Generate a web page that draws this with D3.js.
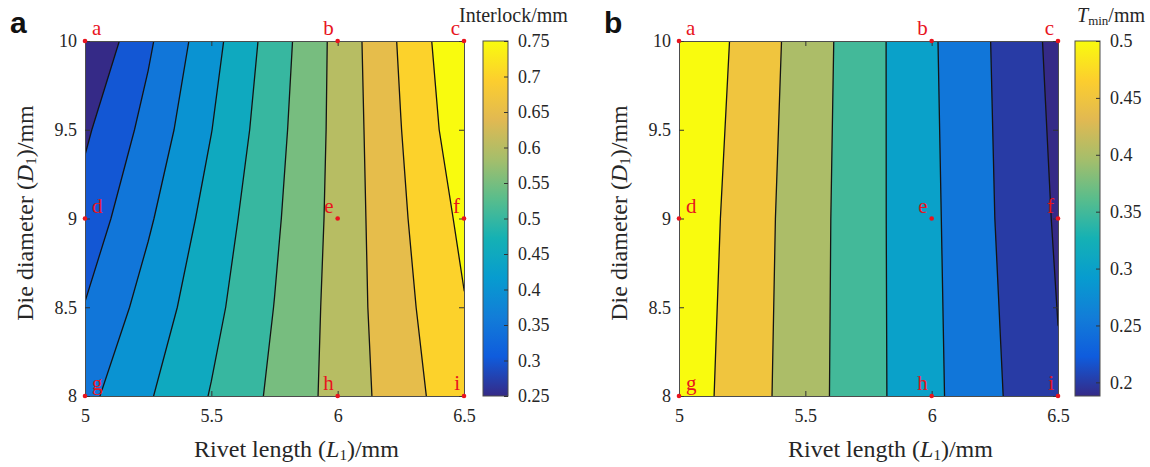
<!DOCTYPE html>
<html>
<head>
<meta charset="utf-8">
<script src="https://cdn.jsdelivr.net/npm/d3@7"></script>
<style>
body { margin: 0; background: #fff; }
svg text { font-family: "Liberation Serif", "DejaVu Serif", serif; }
</style>
</head>
<body>
<div id="chart"></div>
<script>
// grid: columns = rivet length L1, rows = die diameter D1
var rivetLength = [5, 5.25, 5.5, 5.75, 6, 6.25, 6.5];

var dieDiamA = [8, 8.5, 9, 9.5, 10];
// interlock / mm, one row per die diameter
var interlock = [
  [0.386, 0.445, 0.503, 0.560, 0.618, 0.677, 0.734],
  [0.352, 0.420, 0.485, 0.551, 0.618, 0.685, 0.747],
  [0.320, 0.393, 0.469, 0.542, 0.616, 0.692, 0.762],
  [0.292, 0.366, 0.449, 0.533, 0.615, 0.699, 0.783],
  [0.250, 0.342, 0.432, 0.524, 0.615, 0.706, 0.796]
];
var levelsA = [0.25, 0.3, 0.35, 0.4, 0.45, 0.5, 0.55, 0.6, 0.65, 0.7, 0.75];
var cbarTicksA = [0.25, 0.3, 0.35, 0.4, 0.45, 0.5, 0.55, 0.6, 0.65, 0.7, 0.75];

var dieDiamB = [8, 9, 10];
// Tmin / mm
var tmin = [
  [0.530, 0.476, 0.421, 0.366, 0.311, 0.257, 0.204],
  [0.538, 0.480, 0.423, 0.366, 0.309, 0.250, 0.194],
  [0.548, 0.488, 0.427, 0.367, 0.306, 0.246, 0.185]
];
var levelsB = [0.188, 0.2, 0.25, 0.3, 0.35, 0.4, 0.45, 0.5];
var cbarTicksB = [0.2, 0.25, 0.3, 0.35, 0.4, 0.45, 0.5];

var xTicks = [5, 5.5, 6, 6.5];
var yTicks = [8, 8.5, 9, 9.5, 10];

// marked points a..i
var pointL = [5, 6, 6.5, 5, 6, 6.5, 5, 6, 6.5];
var pointD = [10, 10, 10, 9, 9, 9, 8, 8, 8];
var pointName = ["a", "b", "c", "d", "e", "f", "g", "h", "i"];

// parula colormap anchors
var parula = ["#352a87", "#0f5cdd", "#127dd8", "#079ccf", "#15b1b4",
              "#59bd8c", "#a5be6b", "#e1b952", "#fcce2e", "#f9fb0e"];

var SERIF = "Liberation Serif, DejaVu Serif, serif";

var svg = d3.select("#chart").append("svg")
  .attr("width", 1150).attr("height", 467)
  .attr("font-family", SERIF);

var defs = svg.append("defs");

function panel(opt) {
  var x = d3.scaleLinear().domain([5, 6.5]).range([opt.left, opt.left + 379]);
  var y = d3.scaleLinear().domain([8, 10]).range([396, 41]);

  var cmin = opt.levels[0], cmax = opt.levels[opt.levels.length - 1];
  var color = d3.scaleLinear()
    .domain(d3.range(parula.length).map(function(i) { return cmin + (cmax - cmin) * i / (parula.length - 1); }))
    .range(parula)
    .interpolate(d3.interpolateRgb);

  var nx = rivetLength.length, ny = opt.rows.length;
  var values = [];
  opt.data.forEach(function(row) { row.forEach(function(v) { values.push(v); }); });

  var thr = opt.levels.slice();
  thr[0] = Math.min(thr[0], d3.min(values)) - 1e-6;

  var contours = d3.contours().size([nx, ny]).thresholds(thr)(values);

  // grid index -> data value
  var ix = d3.scaleLinear().domain([0.5, nx - 0.5]).range([rivetLength[0], rivetLength[nx - 1]]);
  var iy = d3.scaleLinear().domain([0.5, ny - 0.5]).range([opt.rows[0], opt.rows[ny - 1]]);
  var path = d3.geoPath(d3.geoTransform({
    point: function(px, py) { this.stream.point(x(ix(px)), y(iy(py))); }
  }));

  defs.append("clipPath").attr("id", "clip" + opt.id)
    .append("rect")
    .attr("x", x(5)).attr("y", y(10))
    .attr("width", x(6.5) - x(5)).attr("height", y(8) - y(10));

  var g = svg.append("g").attr("clip-path", "url(#clip" + opt.id + ")");

  g.selectAll("path.fill")
    .data(contours)
    .enter().append("path")
    .attr("class", "fill")
    .attr("d", path)
    .attr("fill", function(d, i) { return color(opt.levels[i]); });

  // contour lines on top
  g.selectAll("path.iso")
    .data(contours.slice(1))
    .enter().append("path")
    .attr("class", "iso")
    .attr("d", path)
    .attr("fill", "none")
    .attr("stroke", "#141414")
    .attr("stroke-width", 1.3);

  // axes, ticks inward
  var ax = svg.append("g");

  ax.append("g")
    .attr("transform", "translate(0,396)")
    .call(d3.axisBottom(x).tickValues(xTicks).tickSize(-5).tickPadding(13).tickFormat(d3.format("")));
  ax.append("g")
    .attr("transform", "translate(0,41)")
    .call(d3.axisTop(x).tickValues(xTicks).tickSize(-5).tickFormat(""));
  ax.append("g")
    .attr("transform", "translate(" + x(5) + ",0)")
    .call(d3.axisLeft(y).tickValues(yTicks).tickSize(-5).tickPadding(8).tickFormat(d3.format("")));
  ax.append("g")
    .attr("transform", "translate(" + x(6.5) + ",0)")
    .call(d3.axisRight(y).tickValues(yTicks).tickSize(-5).tickFormat(""));

  ax.selectAll("g").attr("font-family", SERIF).attr("font-size", 18);
  ax.selectAll(".domain").attr("stroke", "#4d4d4d");
  ax.selectAll(".tick line").attr("stroke", "#333");
  ax.selectAll("text").attr("fill", "#262626");

  // axis titles
  var xt = svg.append("text")
    .attr("x", (x(5) + x(6.5)) / 2 + 22).attr("y", 457)
    .attr("text-anchor", "middle").attr("font-size", 24).attr("fill", "#262626");
  xt.append("tspan").text("Rivet length (");
  xt.append("tspan").attr("font-style", "italic").text("L");
  xt.append("tspan").attr("font-size", 15).attr("dy", 3).text("1");
  xt.append("tspan").attr("dy", -3).text(")/mm");

  var yt = svg.append("text")
    .attr("transform", "translate(" + (opt.left - 52) + ",213) rotate(-90)")
    .attr("text-anchor", "middle").attr("font-size", 24).attr("fill", "#262626");
  yt.append("tspan").text("Die diameter (");
  yt.append("tspan").attr("font-style", "italic").text("D");
  yt.append("tspan").attr("font-size", 15).attr("dy", 3).text("1");
  yt.append("tspan").attr("dy", -3).text(")/mm");

  // marked points
  var pts = svg.append("g");
  pts.selectAll("circle")
    .data(pointName)
    .enter().append("circle")
    .attr("cx", function(d, i) { return x(pointL[i]); })
    .attr("cy", function(d, i) { return y(pointD[i]); })
    .attr("r", 2.3)
    .attr("fill", "#e8141e");
  pts.selectAll("text")
    .data(pointName)
    .enter().append("text")
    .attr("x", function(d, i) { return pointL[i] === 5 ? x(pointL[i]) + 7 : x(pointL[i]) - 4; })
    .attr("y", function(d, i) { return y(pointD[i]) - 6; })
    .attr("text-anchor", function(d, i) { return pointL[i] === 5 ? "start" : "end"; })
    .attr("font-size", 21)
    .attr("fill", "#e8141e")
    .text(function(d) { return d; });

  // colorbar
  var cb = d3.scaleLinear().domain([cmin, cmax]).range([396, 41]);
  var grad = defs.append("linearGradient").attr("id", "grad" + opt.id)
    .attr("x1", 0).attr("y1", 1).attr("x2", 0).attr("y2", 0);
  grad.selectAll("stop")
    .data(parula)
    .enter().append("stop")
    .attr("offset", function(d, i) { return i / (parula.length - 1); })
    .attr("stop-color", function(d) { return d; });

  svg.append("rect")
    .attr("x", opt.cbLeft).attr("y", 41)
    .attr("width", 25).attr("height", 355)
    .attr("fill", "url(#grad" + opt.id + ")")
    .attr("stroke", "#4d4d4d").attr("stroke-width", 1);

  var cba = svg.append("g")
    .attr("transform", "translate(" + (opt.cbLeft + 25) + ",0)")
    .call(d3.axisRight(cb).tickValues(opt.cbarTicks).tickSize(-4).tickPadding(10).tickFormat(d3.format("")));
  cba.attr("font-family", SERIF).attr("font-size", 18);
  cba.select(".domain").remove();
  cba.selectAll(".tick line").attr("stroke", "#333");
  cba.selectAll("text").attr("fill", "#262626");

  // panel letter
  svg.append("text")
    .attr("x", opt.left - 75).attr("y", 33)
    .style("font-family", "'Liberation Sans', Arial, sans-serif")
    .attr("font-weight", "bold").attr("font-size", 30)
    .attr("fill", "#111")
    .text(opt.id);
}

panel({ id: "a", left: 85, cbLeft: 483, rows: dieDiamA, data: interlock, levels: levelsA, cbarTicks: cbarTicksA });
panel({ id: "b", left: 679, cbLeft: 1075, rows: dieDiamB, data: tmin, levels: levelsB, cbarTicks: cbarTicksB });

// colorbar titles
svg.append("text").attr("x", 459).attr("y", 22)
  .attr("font-size", 20).attr("fill", "#262626")
  .text("Interlock/mm");

var tt = svg.append("text").attr("x", 1077).attr("y", 22)
  .attr("font-size", 20).attr("fill", "#262626");
tt.append("tspan").attr("font-style", "italic").text("T");
tt.append("tspan").attr("font-size", 13).attr("dy", 3).text("min");
tt.append("tspan").attr("dy", -3).text("/mm");
</script>
</body>
</html>
